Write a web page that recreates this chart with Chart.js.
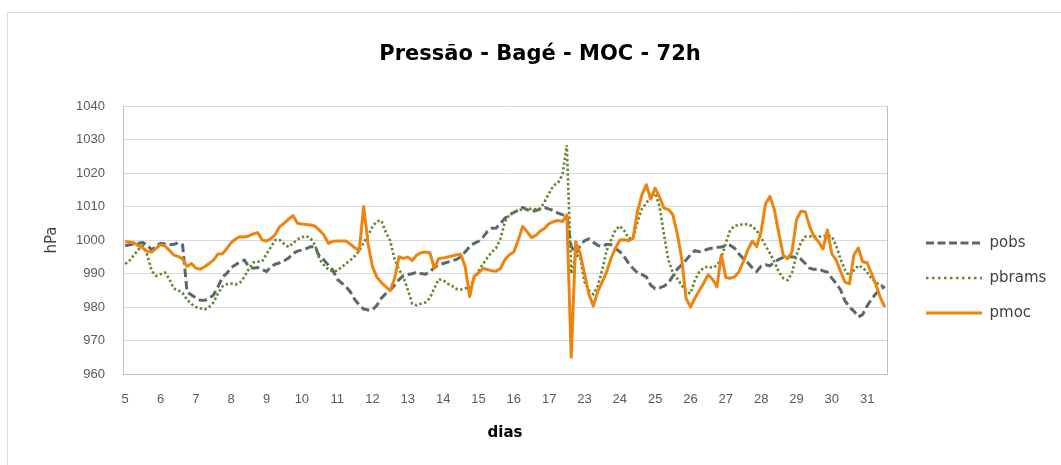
<!DOCTYPE html>
<html><head><meta charset="utf-8">
<script src="https://cdn.jsdelivr.net/npm/chart.js@4.4.1/dist/chart.umd.min.js"></script>
<style>html,body{margin:0;padding:0;background:#fff;}#wrap{width:1061px;height:465px;}</style>
</head><body>
<div id="wrap"><canvas id="c" width="1061" height="465"></canvas></div>
<script>
const dayLabels = ['5','6','7','8','9','10','11','12','13','14','15','16','17','23','24','25','26','27','28','29','30','31'];
const pointsPerDay = 8;

const pobs = [
998.3,998.6,998.9,999,999.2,998.5,997,998.2,999,998.8,
998.6,998.7,999.2,998.5,984.5,983.6,982.7,982,982,982.6,
983.6,986,988.9,990,991.8,992.6,993.5,994,992,991.6,
991.8,991.2,990.6,992,992.8,993.2,993.8,994.6,996,996.7,
997,997.4,998,998,995,994,992.5,991,988.3,987.2,
986,984.5,982.2,980.6,979.4,979.1,979.2,980.5,982.6,984,
985,986.5,988.2,989.3,989.7,989.9,990.4,990,989.8,990.5,
991.8,992.6,993,993.4,993.8,994.2,995,996.5,998,999,
999.6,1000.8,1002.5,1003.5,1003.6,1005,1006.5,1007.5,1008.2,1008.9,
1009.7,1009.1,1008.5,1008.8,1009.2,1009.7,1009.2,1008.8,1008,1007.6,
1006.8,998,996,998.2,999.8,1000.3,999.3,998.4,998.1,998.7,
998.6,997.5,996.5,995,993,991.5,990.2,989.7,989,986.5,
985.5,985.7,986.2,987.2,989.2,991.3,992.6,994,995.6,996.8,
996.5,996.8,997.3,997.6,997.8,997.9,998.3,998.4,997.5,995.8,
994.4,993.2,991.7,990.6,992.2,992.6,992.3,993.4,994.2,994.8,
995,995,994.8,994.3,993,991.6,991.2,991.4,990.8,990.4,
988.6,987,985.1,981.8,980,978.8,977,977.8,980.3,982.4,
984,985.2,986.2
];

const pbrams = [
992.8,993.9,995.5,997.2,998.2,995.5,990.8,989.3,989.8,990.3,
988.3,985.5,985,984.2,982.2,980.9,980,979.6,979.3,980,
981.4,984,986.1,986.8,987,986.7,987.3,989,991.4,993.3,
993.5,993.6,995.8,997.9,1000,1000,998.8,997.9,999,1000.2,
1000.8,1001.2,1000.4,998.5,994.2,992.5,991.2,990.6,990.8,991.9,
993,994,995.2,996.8,999.2,1001.4,1004,1005.6,1005.8,1002.4,
999.8,994.2,991.2,989,985.1,981,980.5,981,981.4,982.7,
985.6,988.3,988,987,986.3,985.4,985.2,985.6,985.6,988.4,
990.7,992.8,994.7,996.4,997.6,1000.5,1005.5,1007.5,1008.4,1008.9,
1009.1,1009.3,1009.3,1009.2,1009.4,1011.5,1014,1016.3,1017,1019.5,
1028.3,990,995.5,995,987.5,985,983.8,986.2,991,996.8,
1000,1003,1004.2,1002.8,1000.5,1000.5,1005.5,1009.3,1011,1013,
1014,1010,1001.5,994,990.3,988.5,986.5,984.6,984,988,
990.5,991.7,992.1,991.7,992.4,994.8,999,1003,1004.2,1004.5,
1004.7,1004.7,1004.1,1002.8,1000.7,998.3,996,993.5,990.5,988.6,
988,990.2,995.5,999.2,1001,1001.1,1001,1001,1001.1,1001.3,
1001.1,998.3,994.2,991,989.3,991,992.4,991.8,990.3,988.6,
987.4,986.5,986.1
];

const pmoc = [
999.5,999.4,999.1,998.3,997.6,996.6,996.4,997.5,998.6,998.2,
996.9,995.5,995.1,994.3,992.1,993,991.6,991.3,992,993,
994,995.8,995.9,997.4,999.2,1000.3,1001,1000.9,1001.2,1001.8,
1002.2,1000,999.7,1000.4,1001.7,1004,1005,1006.2,1007.3,1005,
1004.8,1004.6,1004.5,1004.1,1002.9,1001.5,999,999.6,999.7,999.7,
999.7,998.7,997.7,996.9,1010,998.8,992,988.9,987.3,986.1,
984.9,988.5,995,994.5,994.9,993.9,995.5,996.2,996.4,996.2,
991.5,994.5,994.6,994.9,995.2,995.6,995.7,992,983.1,989.1,
990.2,991.5,991.2,990.8,990.7,991.5,994.2,995.6,996.4,1000,
1004,1002.5,1000.7,1001.4,1002.7,1003.5,1004.9,1005.5,1005.8,1005.5,
1007.5,965,999.5,996,990,983.8,980.3,984.6,987.4,990.4,
994.5,997.5,1000,1000.1,999.8,1000.5,1008.5,1013.5,1016.5,1012.2,
1015.5,1012.8,1009.5,1009.1,1007.6,1002,994.5,982.6,980,982.6,
984.9,987.2,989.6,988.3,986,995.5,988.8,988.6,989,990.6,
993.6,997.1,999.7,998,1002.6,1010.8,1013,1009,1002,995.5,
994.4,996.5,1006,1008.6,1008.4,1004,1001,999.5,997.3,1003,
995.9,994,990.6,987.4,986.9,995.5,997.6,993.5,993.2,990,
986.6,982.8,980
];

const yMin = 960, yMax = 1040, yStep = 10;

const labels = pmoc.map((_, i) => (i % pointsPerDay === 0 ? dayLabels[i / pointsPerDay] : ''));

const gridColor = '#d9d9d9';
const axisColor = '#bfbfbf';
const tickFont = { family: 'Liberation Sans', size: 13 };

const frame = {
  id: 'frame',
  beforeDraw(chart) {
    const ctx = chart.ctx;
    ctx.save();
    ctx.fillStyle = '#ffffff';
    ctx.fillRect(0, 0, chart.width, chart.height);
    ctx.strokeStyle = '#d9d9d9';
    ctx.lineWidth = 1;
    ctx.beginPath();
    ctx.moveTo(7.5, chart.height + 2);
    ctx.lineTo(7.5, 12.5);
    ctx.lineTo(chart.width + 2, 12.5);
    ctx.stroke();
    ctx.restore();
  }
};

const legendLines = {
  id: 'legendLines',
  afterDraw(chart) {
    const lg = chart.legend;
    if (!lg || !lg.legendHitBoxes) return;
    const ctx = chart.ctx;
    const bw = lg.options.labels.boxWidth;
    lg.legendItems.forEach((item, k) => {
      const hb = lg.legendHitBoxes[k];
      const ds = chart.data.datasets[item.datasetIndex];
      const y = hb.top + hb.height / 2;
      ctx.save();
      ctx.strokeStyle = ds.borderColor;
      ctx.lineWidth = ds.borderWidth;
      ctx.setLineDash(ds.legendDash || ds.borderDash || []);
      ctx.lineCap = 'butt';
      ctx.beginPath();
      ctx.moveTo(hb.left, y);
      ctx.lineTo(hb.left + bw, y);
      ctx.stroke();
      ctx.restore();
    });
  }
};

new Chart(document.getElementById('c'), {
  type: 'line',
  data: {
    labels: labels,
    datasets: [
      { label: 'pobs', data: pobs, borderColor: '#5b6770', borderWidth: 3, borderDash: [8.5, 4], legendDash: [8, 3.5], order: 3 },
      { label: 'pbrams', data: pbrams, borderColor: '#66862a', borderWidth: 2.6, borderDash: [2.4, 2.4], legendDash: [2.5, 3.5], order: 2 },
      { label: 'pmoc', data: pmoc, borderColor: '#ee8410', borderWidth: 3, borderJoinStyle: 'round', order: 1 }
    ]
  },
  options: {
    responsive: false,
    animation: false,
    devicePixelRatio: 1,
    events: [],
    elements: { point: { radius: 0 }, line: { tension: 0, fill: false } },
    layout: { padding: { left: 29, right: 10, top: 12, bottom: 0 } },
    plugins: {
      title: {
        display: true,
        text: 'Pressão - Bagé - MOC - 72h',
        color: '#000000',
        font: { family: 'DejaVu Sans', size: 21, weight: 'bold' },
        padding: { top: 30.4, bottom: 38.4 }
      },
      legend: {
        display: true,
        position: 'right',
        align: 'start',
        maxWidth: 145,
        title: { display: true, text: '', font: { size: 10 }, padding: { top: 191.5, bottom: 0 } },
        labels: {
          boxWidth: 56,
          boxHeight: 15,
          padding: 20,
          color: '#404040',
          font: { family: 'DejaVu Sans', size: 15 },
          sort: (a, b) => a.datasetIndex - b.datasetIndex,
          generateLabels: (chart) => {
            const items = Chart.defaults.plugins.legend.labels.generateLabels(chart);
            items.forEach(it => { it.fillStyle = 'rgba(0,0,0,0)'; it.strokeStyle = 'rgba(0,0,0,0)'; it.lineWidth = 0; });
            return items;
          }
        }
      },
      tooltip: { enabled: false }
    },
    scales: {
      x: {
        type: 'category',
        offset: true,
        grid: { display: false, drawTicks: false },
        border: { display: true, color: axisColor, width: 1 },
        ticks: { autoSkip: false, maxRotation: 0, minRotation: 0, padding: 18, color: '#595959', font: tickFont },
        title: { display: true, text: 'dias', color: '#000000', font: { family: 'DejaVu Sans', size: 15, weight: 'bold' }, padding: { top: 0, bottom: 23 } },
        afterFit(s) { s.height = 91; }
      },
      y: {
        min: yMin,
        max: yMax,
        grid: { color: gridColor, lineWidth: 1, drawTicks: false },
        border: { display: true, color: axisColor, width: 1 },
        ticks: { stepSize: yStep, padding: 18, color: '#595959', font: tickFont, callback: (v) => String(v) },
        title: { display: true, text: 'hPa', color: '#404040', font: { family: 'DejaVu Sans', size: 15 }, padding: { top: 14, bottom: 0 } },
        afterFit(s) { s.width = 94; }
      },
      y2: {
        position: 'right',
        display: true,
        grid: { display: false, drawTicks: false },
        ticks: { display: false },
        border: { display: true, color: axisColor, width: 1 },
        afterFit(s) { s.width = 19; }
      }
    }
  },
  plugins: [frame, legendLines]
});
</script>
</body></html>
